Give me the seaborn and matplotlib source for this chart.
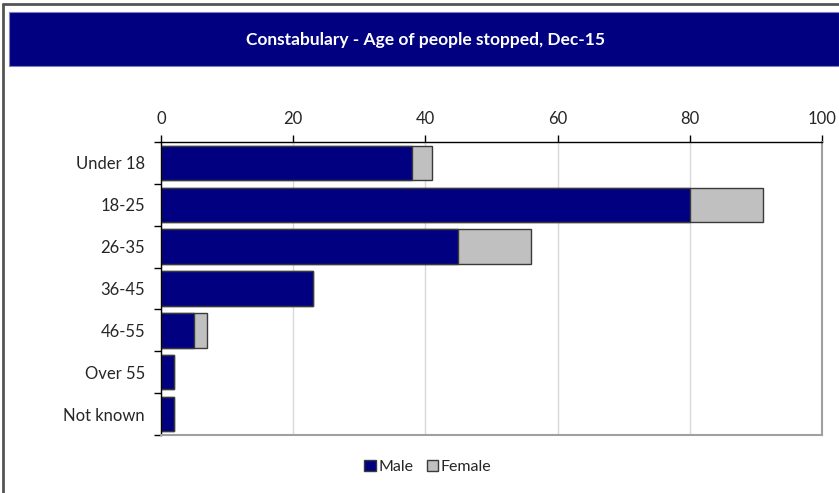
import matplotlib
matplotlib.use("Agg")
import matplotlib.pyplot as plt
import seaborn as sns
import pandas as pd
from matplotlib.patches import Rectangle
from matplotlib.lines import Line2D

categories = ["Under 18", "18-25", "26-35", "36-45", "46-55", "Over 55", "Not known"]
male = [38, 80, 45, 23, 5, 2, 2]
female = [3, 11, 11, 0, 2, 0, 0]
xticks = [0, 20, 40, 60, 80, 100]
title = "Constabulary - Age of people stopped, Dec-15"

NAVY = "#000080"
GREY = "#C0C0C0"
EDGE = "#3a3a3a"

sns.set_style("white")
plt.rcParams["font.family"] = ["Lato", "DejaVu Sans"]

df = pd.DataFrame({"cat": categories, "male": male, "female": female})
df["total"] = df["male"] + df["female"]

W, H = 839, 493
fig = plt.figure(figsize=(W / 100, H / 100), dpi=100)
fig.patch.set_facecolor("white")

# outer border
fig.add_artist(Line2D([3 / W, 3 / W], [0, 1 - 4 / H], transform=fig.transFigure, color="#555555", lw=2))
fig.add_artist(Line2D([3 / W, 1], [1 - 4 / H, 1 - 4 / H], transform=fig.transFigure, color="#555555", lw=2))
# title banner
fig.add_artist(Rectangle((9 / W, 1 - 66 / H), 1 - 9 / W, 54 / H, transform=fig.transFigure,
                         facecolor=NAVY, edgecolor="#8080c0", lw=0.8))
fig.text(425 / W, 1 - 40 / H, title, color="white", ha="center", va="center",
         fontsize=12.5, fontweight="bold")

ax = fig.add_axes([161 / W, 1 - 435 / H, (822 - 161) / W, (435 - 142) / H])
sns.barplot(data=df, y="cat", x="total", color=GREY, orient="h", ax=ax,
            width=0.82, edgecolor=EDGE, linewidth=1, saturation=1)
sns.barplot(data=df, y="cat", x="male", color=NAVY, orient="h", ax=ax,
            width=0.82, edgecolor=EDGE, linewidth=1, saturation=1)
if ax.get_legend() is not None:
    ax.get_legend().remove()

ax.set_xlim(0, 100)
ax.set_ylim(len(categories) - 0.5, -0.5)
ax.set_xticks(xticks)
ax.xaxis.tick_top()
ax.tick_params(axis="x", top=True, bottom=False, length=5, width=1, color="black",
               labelsize=12, pad=6, direction="out")
ax.set_yticks([i - 0.5 for i in range(len(categories) + 1)], minor=True)
ax.set_yticks(range(len(categories)))
ax.set_yticklabels(categories)
ax.tick_params(axis="y", which="major", left=False, labelsize=12, pad=8)
ax.tick_params(axis="y", which="minor", left=True, length=5, width=1, color="black", direction="out")
ax.set_xlabel("")
ax.set_ylabel("")
ax.grid(axis="x", color="#d9d9d9", lw=1)
ax.set_axisbelow(True)
for s in ["top", "left"]:
    ax.spines[s].set_color("black")
    ax.spines[s].set_linewidth(1)
for s in ["right", "bottom"]:
    ax.spines[s].set_color("#a0a0a0")
    ax.spines[s].set_linewidth(1.5)
ax.spines["right"].set_visible(True)
ax.spines["bottom"].set_visible(True)

handles = [Rectangle((0, 0), 1, 1, facecolor=NAVY, edgecolor=EDGE, lw=1),
           Rectangle((0, 0), 1, 1, facecolor=GREY, edgecolor=EDGE, lw=1)]
fig.legend(handles, ["Male", "Female"], loc="center", bbox_to_anchor=(428 / W, 1 - 467 / H),
           ncol=2, frameon=False, fontsize=11.5, handlelength=0.7, handleheight=0.7,
           handletextpad=0.2, columnspacing=0.8)

fig.savefig("out.png", dpi=100, facecolor="white")
